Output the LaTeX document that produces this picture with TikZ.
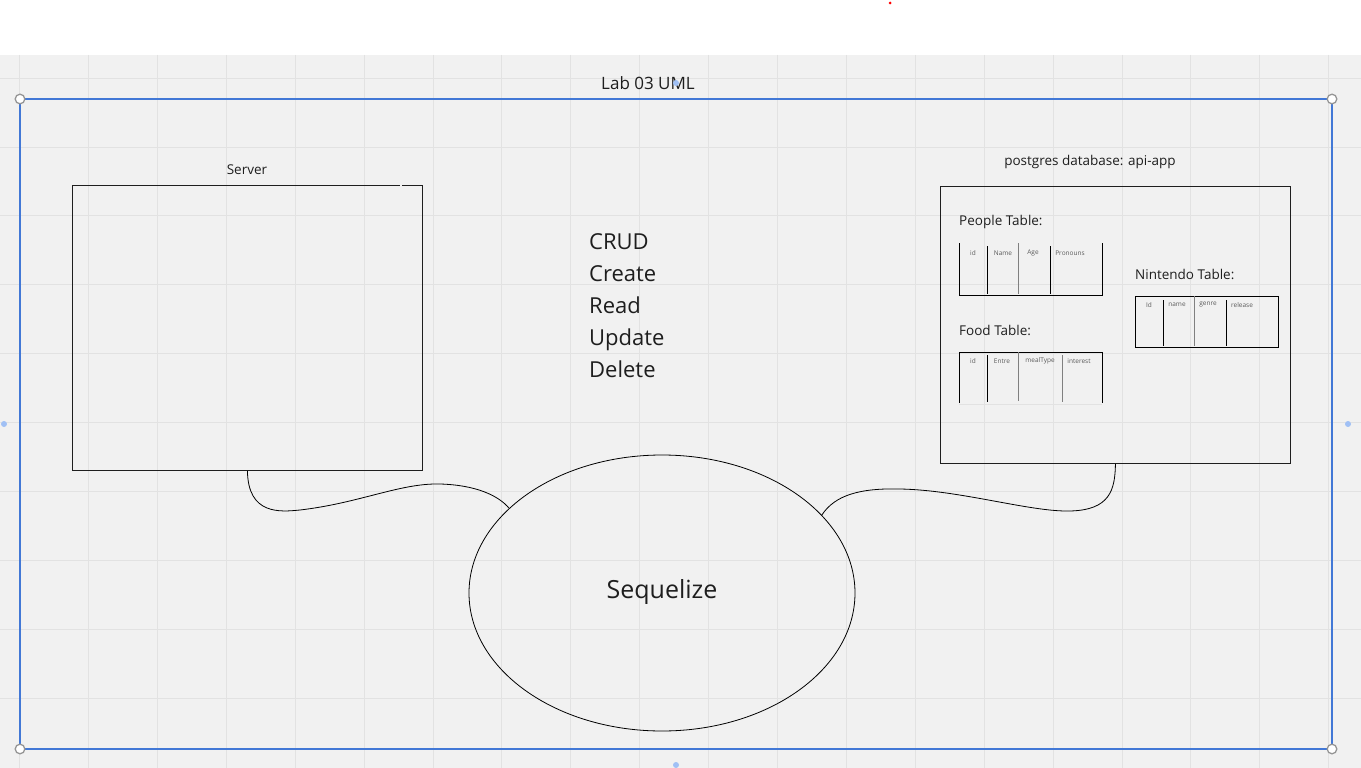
\documentclass[tikz,border=0pt]{standalone}
\usepackage{fontspec}
\setmainfont{Open Sans}
\usetikzlibrary{shapes.geometric}
\definecolor{bg}{RGB}{241,241,241}
\definecolor{gridc}{RGB}{226,226,226}
\definecolor{framec}{RGB}{66,120,214}
\definecolor{dotc}{RGB}{160,192,245}
\definecolor{handlec}{RGB}{150,150,150}
\definecolor{txt}{RGB}{30,30,30}
\definecolor{hdr}{RGB}{90,90,90}
\tikzset{
  box/.style={draw=txt, line width=0.9pt, anchor=north west, inner sep=0pt},
  lbl/.style={text=txt, inner sep=0pt, font=\fontsize{13.5}{16}\selectfont},
  hd/.style={text=hdr, inner sep=0pt, font=\fontsize{6.5}{8}\selectfont},
  tline/.style={draw=black, line width=0.9pt},
  conn/.style={draw=black, line width=0.8pt},
  handle/.style={draw=handlec, fill=white, line width=1.3pt},
  bdot/.style={fill=dotc, draw=none}
}
\begin{document}
\begin{tikzpicture}[x=1pt,y=-1pt]
\useasboundingbox (0,0) rectangle (1361,768);
\fill[white] (0,0) rectangle (1361,768);
\fill[bg] (0,55) rectangle (1361,768);
% grid
\foreach \k in {0,...,19} {\draw[gridc, line width=0.8pt] ({19.5+68.9*\k},55) -- ({19.5+68.9*\k},768);}
\foreach \k in {0,...,9} {\draw[gridc, line width=0.8pt] (0,{78+68.9*\k}) -- (1361,{78+68.9*\k});}
% red dot
\fill[red] (890,3) circle (1.5);
% frame
\draw[framec, line width=1.6pt] (20,99) rectangle (1332,749);
\node[text=txt, inner sep=0pt, font=\fontsize{17}{20}\selectfont] (title) at (648,83) {Lab 03 UML};
% server
\node[box, minimum width=350pt, minimum height=285pt] (server) at (72,185) {};
\fill[bg] (400,184) rectangle (402,186.2);
\node[lbl] (serverlbl) at (247,170) {Server};
% CRUD
\node[anchor=west, align=left, text=txt, inner sep=0pt, font=\fontsize{22}{32}\selectfont] (crud) at (589,306) {CRUD\\Create\\Read\\Update\\Delete};
% database
\node[box, minimum width=350pt, minimum height=277pt] (db) at (940,186) {};
\node[lbl] (dblbl) at (1090,162) {postgres database: api-app};
% People table
\node[lbl, anchor=west] (peoplelbl) at (959,222) {People Table:};
\draw[tline] (959,243) -- (959,295) -- (1102,295) -- (1102,243);
\draw[tline] (987,246) -- (987,294);
\draw[tline, draw=gray] (1018,243) -- (1018,294);
\draw[tline] (1050,246) -- (1050,294);
\node[hd] (p1) at (973,253) {id};
\node[hd] (p2) at (1003,253) {Name};
\node[hd] (p3) at (1033,253) {Age};
\node[hd] (p4) at (1070,253) {Pronouns};
% Food table
\node[lbl, anchor=west] (foodlbl) at (959,330) {Food Table:};
\draw[tline] (959,403) -- (959,352) -- (1102,352) -- (1102,403);
\draw[gridc, line width=0.9pt] (959,404) -- (1102,404);
\draw[tline] (987,355) -- (987,402);
\draw[tline, draw=gray] (1018,352) -- (1018,401);
\draw[tline, draw=gray] (1062,355) -- (1062,402);
\node[hd] (f1) at (973,361) {id};
\node[hd] (f2) at (1002,361) {Entre};
\node[hd] (f3) at (1040,361) {mealType};
\node[hd] (f4) at (1079,361) {interest};
% Nintendo table
\node[lbl, anchor=west] (ninlbl) at (1135,274) {Nintendo Table:};
\draw[tline] (1135,296) rectangle (1278,347);
\draw[tline] (1163,300) -- (1163,346);
\draw[tline, draw=gray] (1194,296) -- (1194,346);
\draw[tline] (1226,300) -- (1226,346);
\node[hd] (n1) at (1149,305) {Id};
\node[hd] (n2) at (1177,305) {name};
\node[hd] (n3) at (1208,305) {genre};
\node[hd] (n4) at (1242,305) {release};
% Sequelize
\node[ellipse, draw=black, line width=0.8pt, minimum width=386pt, minimum height=276pt, inner sep=0pt] (seq) at (662,593) {};
\node[text=txt, inner sep=0pt, font=\fontsize{25}{28}\selectfont] (seqlbl) at (662,592) {Sequelize};
% connectors
\draw[conn] (server.south) .. controls (248,515) and (280,512) .. (300,510)
  .. controls (360,503) and (400,483) .. (440,484)
  .. controls (475,485) and (498,495) .. (seq.151);
\draw[conn] (seq.26) .. controls (835,495) and (860,488) .. (900,489)
  .. controls (960,490) and (1030,512) .. (1070,511)
  .. controls (1110,510) and (1115,490) .. (db.south);
% handles
\foreach \p in {(20,99),(1332,99),(20,749),(1332,749)} {\draw[handle] \p circle (4.8);}
\foreach \p in {(4,424),(1348,424),(676,765),(676,83)} {\fill[bdot] \p circle (3);}
\end{tikzpicture}
\end{document}
